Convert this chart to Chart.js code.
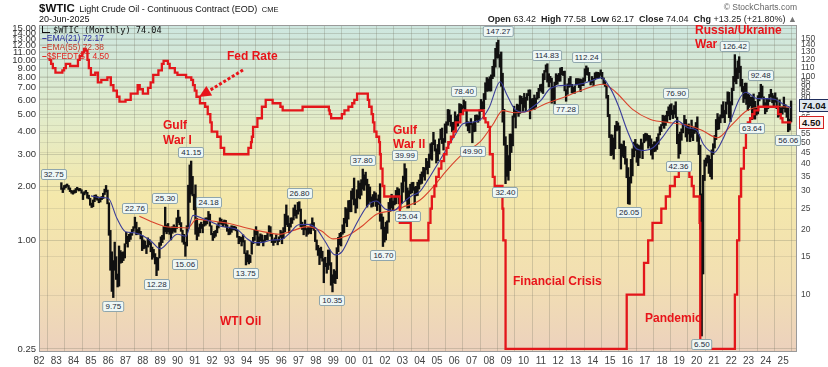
<!DOCTYPE html>
<html>
<head>
<meta charset="utf-8">
<script src="https://cdn.jsdelivr.net/npm/chart.js@4.4.1/dist/chart.umd.min.js"></script>
<style>
html,body{margin:0;padding:0;background:#fff;}
#wrap{position:relative;width:828px;height:367px;overflow:hidden;font-family:Arial,"Liberation Sans",sans-serif;}
#c{position:absolute;left:0;top:0;}
.t{position:absolute;white-space:nowrap;}
.ann{position:absolute;color:#e8141a;font-weight:bold;font-size:12px;line-height:14px;white-space:nowrap;}
.co{position:absolute;font-size:8px;line-height:9px;color:#1d2a3a;background:#eef7f5;border:1px solid #8fa6ad;border-radius:2px;padding:0 2px;white-space:nowrap;transform:translateX(-50%);}
.tag{position:absolute;left:799px;font-size:9.5px;font-weight:bold;line-height:11px;padding:0 2px;white-space:nowrap;}
.leg{position:absolute;left:42px;font-size:8.5px;line-height:9px;white-space:nowrap;}
</style>
</head>
<body>
<div id="wrap">
<canvas id="c" width="828" height="367"></canvas>

<div class="t" style="left:39px;top:0px;line-height:13px;color:#111"><b style="font-size:11.5px">$WTIC</b> <span style="font-size:9px">Light Crude Oil - Continuous Contract (EOD)</span> <span style="font-size:7.5px">CME</span></div>
<div class="t" style="left:39px;top:14px;font-size:9px;line-height:10px;color:#111">20-Jun-2025</div>
<div class="t" style="right:31px;top:2px;font-size:8.5px;line-height:10px;color:#666">&copy; StockCharts.com</div>
<div class="t" style="right:31px;top:14px;font-size:9px;line-height:10px;color:#222"><b>Open</b> 63.42 &nbsp;<b>High</b> 77.58 &nbsp;<b>Low</b> 62.17 &nbsp;<b>Close</b> 74.04 &nbsp;<b>Chg</b> +13.25 (+21.80%) <span style="color:#777">&#9650;</span></div>

<div class="leg" style="top:26px;font-family:'DejaVu Sans Mono',monospace;font-size:8.6px;color:#111"><span style="display:inline-block;width:7px;height:6px;border-left:1px solid #111;border-bottom:1px solid #111;margin-right:3px"></span>$WTIC (Monthly) 74.04</div>
<div class="leg" style="top:34px;color:#2a2f9e"><b>&#8211;</b>EMA(21) 72.17</div>
<div class="leg" style="top:43px;color:#c83a2a"><b>&#8211;</b>EMA(55) 72.38</div>
<div class="leg" style="top:52px;color:#e0201c"><b>&#8211;</b>$$FEDTGT 4.50</div>

<div class="ann" style="left:227px;top:49px">Fed Rate</div>
<div class="ann" style="left:163px;top:118px;line-height:15px">Gulf<br>War I</div>
<div class="ann" style="left:393px;top:123px;line-height:14px">Gulf<br>War II</div>
<div class="ann" style="left:513px;top:274px">Financial Crisis</div>
<div class="ann" style="left:220px;top:314px">WTI Oil</div>
<div class="ann" style="left:645px;top:311px">Pandemic</div>
<div class="ann" style="left:695px;top:23px;line-height:14px">Russia/Ukraine<br>War</div>
<div id="overlay"></div>
</div>

<script>
// monthly WTI bars, Apr 1983 .. Jun 2025 (lows / highs, one row per year)
const firstMonth = 1983 + 3/12;
const wtiLow = [
  30.5,29.5,30.5,31.0,31.5,30.5,29.8,29.3,29.0,
  29.3,29.5,30.4,30.0,30.1,29.3,27.4,28.8,29.3,27.8,27.6,25.8,
  25.2,25.4,26.8,27.5,27.2,26.5,26.7,27.4,27.7,28.9,29.7,26.2,
  18.8,13.0,10.4,9.75,13.0,11.8,10.9,11.0,14.0,14.1,14.4,14.8,
  17.2,16.6,17.6,18.0,18.8,19.6,20.3,18.9,19.0,19.2,18.1,16.0,
  16.3,16.4,15.5,16.6,17.0,15.8,14.6,14.9,13.9,12.28,13.0,14.8,
  16.9,17.4,18.0,19.5,19.1,19.5,19.0,17.9,19.2,19.6,19.4,20.2,
  21.5,21.0,19.6,17.5,17.1,15.06,16.8,20.2,26.6,29.0,28.5,24.6,
  19.0,17.9,18.6,19.3,20.2,19.3,20.7,20.9,21.2,22.1,20.7,18.9,
  17.8,18.3,18.6,19.3,20.3,21.3,21.1,20.6,21.1,20.5,19.6,18.9,
  19.0,19.4,19.9,19.9,19.7,18.4,17.2,17.6,16.8,17.5,15.5,13.75,
  14.2,13.9,14.1,15.4,17.2,17.8,18.9,16.9,16.9,17.7,17.6,16.8,
  17.6,17.9,17.9,19.3,18.6,17.4,16.9,17.4,17.7,17.0,17.6,18.4,
  17.2,18.2,19.5,21.0,20.6,19.3,20.5,21.3,22.1,23.1,22.5,23.5,
  24.2,20.6,20.0,18.9,19.9,18.6,19.0,19.2,19.1,20.2,19.8,17.6,
  16.1,15.2,13.8,14.8,14.3,11.4,13.5,12.6,13.1,13.7,11.1,10.35,
  11.4,11.3,11.9,15.8,17.0,16.8,19.0,19.3,21.4,20.6,22.3,24.1,
  24.1,27.5,25.9,23.8,25.0,27.9,27.6,28.7,30.6,30.2,31.9,25.3,
  26.1,26.9,25.3,25.5,26.9,25.5,24.4,26.0,21.8,20.1,16.7,17.5,
  17.9,19.2,21.6,24.2,25.1,24.4,25.9,26.2,28.2,26.2,24.8,26.3,
  29.6,33.2,27.0,25.04,25.1,29.1,29.4,30.2,26.0,28.5,28.6,30.6,
  32.2,32.5,34.8,33.6,37.5,35.9,38.4,42.0,41.5,48.9,45.7,40.3,
  41.3,44.3,51.6,49.5,46.2,50.1,55.2,60.0,62.3,59.4,56.0,56.9,
  58.2,59.3,59.6,66.2,68.2,68.2,71.8,69.8,59.5,56.6,55.4,60.5,
  49.9,56.0,56.2,63.3,61.9,63.3,69.4,69.3,71.3,78.7,85.8,86.1,
  86.1,86.1,98.1,100.4,110.8,122.0,121.9,110.7,90.5,62.0,48.6,32.4,
  35.0,33.6,37.2,45.0,48.3,65.3,58.3,68.1,65.9,68.0,75.2,69.5,
  72.4,69.5,78.1,82.0,64.2,70.8,71.0,70.8,72.6,79.0,80.1,86.3,
  85.0,83.9,97.0,105.2,94.6,90.0,94.3,75.7,77.1,75.0,92.0,92.5,
  95.4,95.5,102.3,101.4,86.2,77.28,83.2,89.6,90.3,84.4,84.1,84.1,
  91.8,92.0,89.3,85.6,91.1,91.1,95.4,102.2,101.7,95.9,91.8,94.0,
  91.2,96.9,98.4,98.5,99.0,101.6,97.9,92.5,90.4,79.8,65.7,52.7,
  43.6,43.9,42.0,46.8,56.5,57.0,46.9,37.8,43.2,42.6,39.8,34.5,
  26.2,26.05,32.6,35.2,43.0,46.0,40.6,39.2,42.5,46.3,42.2,49.9,
  50.7,51.2,47.1,48.2,43.8,42.0,45.4,45.6,46.5,49.1,54.2,56.1,
  59.8,58.1,59.9,62.0,66.2,63.6,67.0,64.4,67.4,64.9,49.4,42.36,
  44.4,51.2,55.4,60.0,53.0,50.6,54.7,50.5,52.8,51.0,55.0,55.9,
  50.6,44.0,20.0,6.5,12.5,33.5,39.0,40.3,36.1,34.9,34.0,44.1,
  47.2,51.6,57.3,57.6,61.6,64.8,65.0,61.7,67.6,74.9,65.0,62.4,
  74.3,86.5,95.0,92.9,98.2,104.6,90.6,85.7,76.3,79.3,74.7,70.1,
  72.5,73.8,63.64,64.4,64.0,66.8,67.7,77.6,79.5,80.6,72.4,67.7,
  69.3,71.4,77.0,81.0,76.0,72.5,76.5,71.5,65.3,66.0,67.1,67.5,
  71.5,68.9,65.2,56.06,57.0,62.17
];
const wtiHigh = [
  32.75,31.0,31.8,32.0,32.3,31.8,31.0,30.2,30.0,
  30.3,30.8,31.2,30.8,30.8,30.4,29.5,29.8,30.2,29.6,28.7,27.8,
  26.4,27.3,28.7,28.8,28.3,27.6,28.1,28.3,29.3,30.6,31.8,30.3,
  26.5,19.8,15.8,14.4,17.5,15.0,12.5,16.8,16.0,15.7,15.8,17.2,
  19.4,18.6,19.0,19.2,20.0,20.6,22.76,21.6,20.0,20.4,19.6,18.8,
  17.9,17.7,16.9,18.3,18.0,17.4,16.6,16.2,15.5,14.9,14.8,17.4,
  18.5,18.8,20.6,25.3,21.0,21.3,20.5,20.2,20.6,21.0,20.6,22.6,
  24.5,22.8,21.5,19.8,19.0,17.5,20.8,31.9,39.5,41.15,35.0,29.0,
  32.0,22.5,20.4,21.2,21.6,21.1,22.0,22.6,22.6,24.18,23.5,20.8,
  19.2,19.6,19.8,20.8,21.5,22.6,22.3,21.8,22.1,22.0,21.0,20.1,
  20.5,20.8,20.7,20.7,20.5,19.8,18.6,18.5,18.4,18.9,17.8,15.6,
  16.0,15.3,15.2,17.6,18.4,19.9,20.6,19.6,18.5,19.1,18.9,17.9,
  18.8,18.8,19.3,20.8,20.6,19.1,17.9,18.3,18.9,17.8,18.5,19.8,
  19.5,20.4,23.5,25.9,23.1,21.3,22.6,22.6,25.1,25.9,24.5,26.6,
  26.8,24.8,21.6,21.0,22.1,20.2,20.4,20.4,21.2,22.6,21.5,19.8,
  17.9,16.9,16.4,16.6,15.9,14.7,14.9,14.0,16.1,16.1,14.1,12.4,
  13.1,12.9,16.5,18.4,19.2,19.4,21.0,22.5,25.2,24.9,27.1,27.2,
  30.0,30.8,34.4,27.6,30.4,33.4,32.6,33.8,37.8,35.6,36.6,34.0,
  32.2,31.3,28.2,28.9,29.8,29.4,27.6,28.8,32.4,23.6,22.8,20.5,
  21.6,21.9,26.6,27.7,29.0,27.0,28.1,30.2,31.1,30.7,28.0,32.7,
  35.1,39.99,38.0,31.0,30.1,32.2,32.8,32.9,31.3,31.5,32.9,33.7,
  35.8,36.7,38.5,38.3,42.3,41.0,44.3,49.4,50.0,55.7,51.4,46.8,
  49.0,52.0,57.6,58.3,52.2,60.9,62.3,70.9,70.6,66.9,61.9,62.0,
  69.2,66.2,67.2,75.4,74.9,73.9,78.4,77.1,70.4,62.3,61.5,64.4,
  61.1,62.2,66.7,67.0,66.4,70.7,78.8,77.0,83.9,94.0,99.3,97.9,
  100.1,102.1,111.8,119.9,135.1,143.7,147.27,126.5,130.0,103.9,71.0,53.2,
  48.6,43.6,54.7,54.7,66.3,73.4,70.0,75.0,74.4,82.0,81.5,79.8,
  84.0,80.5,83.9,87.1,87.2,79.4,79.6,82.6,80.0,85.0,88.6,92.1,
  92.6,103.4,107.0,113.5,114.83,103.4,100.6,98.6,90.5,94.6,103.4,101.9,
  103.7,109.8,110.6,106.0,106.3,87.3,92.9,98.3,100.4,92.4,89.7,91.0,
  98.2,98.2,97.9,97.8,97.1,98.9,108.9,112.24,110.0,104.8,95.6,100.4,
  98.4,104.4,105.2,104.9,104.5,107.7,104.9,98.9,95.9,91.8,82.3,67.3,
  54.3,54.2,52.5,59.9,62.6,61.6,59.6,49.3,49.0,50.9,48.0,42.2,
  38.4,34.7,41.9,46.8,50.2,51.7,49.3,48.8,48.4,51.9,49.9,54.5,
  55.2,54.9,54.0,53.8,52.0,49.0,50.4,50.4,52.9,54.9,59.1,60.5,
  66.7,66.0,66.6,69.6,72.9,74.5,75.3,70.4,73.9,76.9,65.4,54.6,
  55.8,57.8,60.7,66.6,63.8,59.9,60.9,57.5,63.4,57.5,59.0,61.8,
  65.6,54.4,48.7,29.1,35.4,41.6,42.5,43.8,43.5,41.9,46.3,49.4,
  53.9,63.8,67.9,65.5,67.0,74.5,77.0,70.3,76.7,85.4,85.0,77.0,
  88.8,100.5,126.42,109.8,118.4,123.7,111.9,97.5,90.4,93.6,93.7,83.3,
  82.7,80.6,80.9,83.5,77.3,72.7,82.0,84.9,92.48,90.8,81.0,76.2,
  79.3,79.6,83.1,87.7,84.0,82.0,84.5,80.2,71.5,78.5,72.0,73.0,
  80.8,74.6,72.0,72.0,64.0,77.58
];

// EMA lines
const ema21X = [1985.0,1985.5,1986.0,1986.5,1987.0,1987.5,1988.0,1988.5,1989.0,1989.5,
  1990.0,1990.5,1990.9,1991.5,1992.0,1992.5,1993.0,1993.5,1994.0,1994.5,
  1995.0,1995.5,1996.0,1996.5,1997.0,1997.5,1998.0,1998.5,1999.1,1999.5,
  2000.0,2000.5,2001.0,2001.5,2002.0,2002.5,2003.0,2003.5,2004.0,2004.5,
  2005.0,2005.5,2006.0,2006.5,2007.0,2007.5,2008.0,2008.65,2009.0,2009.5,
  2010.0,2010.5,2011.0,2011.5,2012.0,2012.5,2013.0,2013.5,2014.0,2014.5,
  2015.0,2015.5,2016.0,2016.5,2017.0,2017.5,2018.0,2018.5,2018.85,2019.5,
  2020.0,2020.4,2021.0,2021.5,2022.0,2022.5,2022.85,2023.5,2024.0,2024.5,
  2025.0,2025.45];
const ema21Y = [28.5,28.0,27.8,22.5,19.5,19.3,18.7,17.6,16.3,17.6,
  19.0,18.6,23.2,22.4,21.6,20.7,20.4,19.9,18.2,17.4,
  17.5,17.9,18.0,19.3,21.0,21.1,20.3,17.8,15.3,15.8,
  18.8,22.4,25.8,27.0,24.8,24.4,26.4,28.4,29.8,34.0,
  39.5,46.0,53.5,61.0,62.0,63.5,72.0,95.0,84.0,71.0,
  69.0,72.5,78.0,88.0,91.0,91.5,92.0,93.5,96.5,99.0,
  89.0,73.0,56.5,47.0,46.0,47.5,52.5,59.5,63.0,58.5,
  57.0,49.0,45.0,51.5,64.0,80.0,85.0,79.5,79.5,79.0,
  75.0,72.17];
const ema55X = [1987.8,1988.5,1989.2,1990.0,1990.6,1991.1,1991.7,1992.3,1993.0,1994.0,
  1995.0,1995.9,1996.7,1997.5,1998.3,1999.0,1999.8,2000.7,2001.5,2002.3,
  2003.0,2004.0,2004.8,2005.6,2006.5,2007.5,2008.2,2008.8,2009.5,2010.4,
  2011.3,2012.3,2013.3,2014.6,2015.3,2016.3,2017.3,2018.6,2019.5,2020.3,
  2021.2,2022.0,2022.9,2023.85,2024.7,2025.45];
const ema55Y = [23.0,21.7,20.7,20.4,20.3,22.3,22.0,21.7,21.3,20.3,
  19.5,19.0,19.8,20.6,19.7,18.1,18.7,20.8,23.5,24.3,
  25.3,27.2,31.5,37.6,44.5,50.5,60.0,70.0,68.5,70.0,
  75.5,80.5,86.5,92.5,85.5,71.0,64.0,61.5,60.0,57.0,
  52.6,60.0,70.0,73.0,73.2,72.38];

// fed funds target: date the level starts, level
const fedX = [1982.55,1982.7,1982.8,1982.95,1983.35,1983.45,1983.55,1983.8,1984.25,1984.35,
  1984.5,1984.6,1984.7,1984.8,1984.88,1985.0,1985.25,1985.4,1985.6,1985.95,
  1986.15,1986.3,1986.5,1986.65,1987.0,1987.3,1987.7,1987.82,1988.0,1988.3,
  1988.45,1988.6,1988.9,1989.1,1989.2,1989.45,1989.55,1989.85,1990.0,1990.5,
  1990.8,1990.9,1991.0,1991.1,1991.3,1991.6,1991.75,1991.9,1991.98,1992.3,
  1992.5,1992.7,1994.1,1994.25,1994.3,1994.37,1994.62,1994.88,1995.1,1995.5,
  1995.95,1996.08,1997.23,1998.75,1998.8,1998.88,1999.5,1999.65,1999.88,2000.1,
  2000.22,2000.38,2001.0,2001.08,2001.22,2001.3,2001.38,2001.5,2001.65,2001.7,
  2001.75,2001.85,2001.95,2002.85,2003.48,2004.5,2004.62,2004.7,2004.85,2004.95,
  2005.1,2005.25,2005.4,2005.55,2005.65,2005.8,2005.95,2006.08,2006.35,2006.5,
  2007.7,2007.8,2007.95,2008.05,2008.22,2008.33,2008.78,2008.83,2008.96,2015.96,
  2016.96,2017.2,2017.45,2017.96,2018.22,2018.46,2018.74,2018.97,2019.58,2019.72,
  2019.83,2020.17,2020.21,2022.21,2022.34,2022.46,2022.57,2022.73,2022.85,2022.96,
  2023.09,2023.22,2023.34,2023.57,2024.71,2024.86,2024.96,2025.47];
const fedY = [10.0,9.5,9.0,8.5,8.75,9.0,9.5,9.25,10.0,10.5,
  11.0,11.5,11.25,10.0,9.0,8.25,8.5,7.5,7.75,8.0,
  7.25,6.75,6.25,5.875,6.0,6.5,7.25,6.875,6.5,7.0,
  7.5,8.25,8.75,9.5,9.875,9.5,9.0,8.5,8.25,8.0,
  7.75,7.25,6.75,6.25,5.75,5.5,5.0,4.5,4.0,3.75,
  3.25,3.0,3.25,3.5,3.75,4.25,4.75,5.5,6.0,5.75,
  5.5,5.25,5.5,5.25,5.0,4.75,5.0,5.25,5.5,5.75,
  6.0,6.5,6.0,5.5,5.0,4.5,4.0,3.75,3.5,3.0,
  2.5,2.0,1.75,1.25,1.0,1.25,1.5,1.75,2.0,2.25,
  2.5,2.75,3.0,3.25,3.5,3.75,4.0,4.5,5.0,5.25,
  4.75,4.5,4.25,3.0,2.25,2.0,1.5,1.0,0.25,0.5,
  0.75,1.0,1.25,1.5,1.75,2.0,2.25,2.5,2.25,2.0,
  1.75,1.25,0.25,0.5,1.0,1.75,2.5,3.25,4.0,4.5,
  4.75,5.0,5.25,5.5,5.0,4.75,4.5,4.5];

// labelled turning points: [year, price, 1 = label above / -1 = below]
const callouts = [
  [1982.85,32.75,1],[1986.3,9.75,-1],[1987.55,22.76,1],[1988.8,12.28,-1],[1989.3,25.30,1],
  [1990.8,41.15,1],[1990.45,15.06,-1],[1991.8,24.18,1],[1993.95,13.75,-1],[1997.05,26.80,1],
  [1998.95,10.35,-1],[2000.7,37.80,1],[2001.9,16.70,-1],[2003.15,39.99,1],[2003.3,25.04,-1],
  [2006.55,78.40,1],[2007.05,49.90,-1],[2008.54,147.27,1],[2008.95,32.40,-1],[2011.35,114.83,1],
  [2012.45,77.28,-1],[2013.65,112.24,1],[2016.1,26.05,-1],[2018.8,76.90,1],[2018.95,42.36,-1],
  [2020.3,6.50,-1],[2022.2,126.42,1],[2023.7,92.48,1],[2023.2,63.64,-1],[2025.3,56.06,-1]
];

const years = [];
for(let y=1982;y<=2025;y++) years.push(y);
const rateTicks = [0.25,1,2,3,4,5,6,7,8,9,10,11,12,13,14,15];
const priceTicks = [10,15,20,25,30,35,40,45,50,55,60,65,70,75,80,85,90,95,100,110,120,130,140,150];
const lastClose = 74.04, lastRate = 4.50;

const months = wtiLow.map((_,i)=>firstMonth+i/12+1/24);
const RED='#e8141a';

const bgPlugin={
  id:'bg',
  beforeDraw(ch){
    const {ctx,chartArea:a}=ch;
    const g=ctx.createLinearGradient(0,a.top,0,a.bottom);
    g.addColorStop(0,'#cde6df');
    g.addColorStop(0.28,'#e2ecca');
    g.addColorStop(0.52,'#f4e8ab');
    g.addColorStop(0.78,'#f2dfb2');
    g.addColorStop(1,'#ecd1bd');
    ctx.save();ctx.fillStyle=g;ctx.fillRect(a.left,a.top,a.right-a.left,a.bottom-a.top);ctx.restore();
  },
  afterDraw(ch){
    const {ctx,chartArea:a}=ch;
    ctx.save();
    ctx.strokeStyle='#9a9a9a';ctx.lineWidth=1;
    ctx.strokeRect(a.left+0.5,a.top+0.5,a.right-a.left-1,a.bottom-a.top-1);
    // dotted arrow from the "Fed Rate" note
    const x0=243,y0=70,x1=199,y1=97;
    const dx=x1-x0,dy=y1-y0,len=Math.hypot(dx,dy),ux=dx/len,uy=dy/len;
    const bx=x1-ux*12,by=y1-uy*12;
    ctx.strokeStyle=RED;ctx.fillStyle=RED;ctx.lineWidth=3;ctx.setLineDash([3,2]);
    ctx.beginPath();ctx.moveTo(x0,y0);ctx.lineTo(bx,by);ctx.stroke();
    ctx.setLineDash([]);
    ctx.beginPath();ctx.moveTo(x1,y1);ctx.lineTo(bx-uy*5.5,by+ux*5.5);ctx.lineTo(bx+uy*5.5,by-ux*5.5);ctx.closePath();ctx.fill();
    ctx.restore();
  }
};

let placed=false;
const overlayPlugin={
  id:'overlay',
  afterRender(ch){
    if(placed)return; placed=true;
    const xs=ch.scales.x, yr=ch.scales.yR, yl=ch.scales.yL;
    const box=document.getElementById('overlay');
    let html='';
    callouts.forEach(([yrv,val,dir])=>{
      const px=xs.getPixelForValue(yrv), py=yr.getPixelForValue(val);
      const top = dir>0 ? py-14 : py+3;
      html+=`<div class="co" style="left:${px.toFixed(1)}px;top:${top.toFixed(1)}px">${val.toFixed(2)}</div>`;
    });
    const cy=yr.getPixelForValue(lastClose), ry=yl.getPixelForValue(lastRate);
    html+=`<div class="tag" style="top:${(cy-6.5).toFixed(1)}px;border:1px solid #1f2d5c;background:#dde7f1;color:#111">${lastClose.toFixed(2)}</div>`;
    html+=`<div class="tag" style="top:${(ry-6.5).toFixed(1)}px;border:1px solid #d42020;background:#fff3f0;color:#111">${lastRate.toFixed(2)}</div>`;
    box.innerHTML=html;
  }
};

Chart.defaults.font.family='Arial, "Liberation Sans", sans-serif';
const gridCol='rgba(120,118,100,0.28)';

new Chart(document.getElementById('c'),{
  type:'bar',
  data:{datasets:[
    {type:'line',label:'$$FEDTGT',data:fedX.map((x,i)=>({x,y:fedY[i]})),yAxisID:'yL',stepped:'before',
      borderColor:'#e3161b',borderWidth:2.3,pointRadius:0,order:1},
    {type:'line',label:'EMA(21)',data:ema21X.map((x,i)=>({x,y:ema21Y[i]})),yAxisID:'yR',
      borderColor:'#3a3d9a',borderWidth:1.1,pointRadius:0,cubicInterpolationMode:'monotone',order:2},
    {type:'line',label:'EMA(55)',data:ema55X.map((x,i)=>({x,y:ema55Y[i]})),yAxisID:'yR',
      borderColor:'#d9432c',borderWidth:1.1,pointRadius:0,cubicInterpolationMode:'monotone',order:3},
    {type:'bar',label:'$WTIC',data:months.map((x,i)=>({x,y:[wtiLow[i],wtiHigh[i]]})),yAxisID:'yR',
      backgroundColor:'#111',borderWidth:0,barThickness:1.7,order:4}
  ]},
  options:{
    responsive:false,animation:false,events:[],devicePixelRatio:1,
    layout:{padding:{top:25,left:0,right:0,bottom:0}},
    plugins:{legend:{display:false},tooltip:{enabled:false}},
    scales:{
      x:{type:'linear',min:1982,max:2025.8,offset:false,
        afterBuildTicks:s=>{s.ticks=years.map(v=>({value:v}));},
        afterFit:s=>{s.height=15;},
        grid:{color:gridCol,drawTicks:false},border:{display:false},
        ticks:{autoSkip:false,maxRotation:0,padding:3,color:'#444',font:{size:10},
          callback:v=>String(Math.round(v)%100).padStart(2,'0')}},
      yL:{type:'logarithmic',position:'left',min:0.2405,max:15.61,
        afterBuildTicks:s=>{s.ticks=rateTicks.map(v=>({value:v}));},
        afterFit:s=>{s.width=39;},
        grid:{color:gridCol,drawTicks:false},border:{display:false},
        ticks:{autoSkip:false,padding:3,color:'#333',font:{size:9.5},callback:v=>Number(v).toFixed(2)}},
      yR:{type:'logarithmic',position:'right',min:5.49,max:172.8,
        afterBuildTicks:s=>{s.ticks=priceTicks.map(v=>({value:v}));},
        afterFit:s=>{s.width=31;},
        grid:{color:'rgba(120,118,100,0.16)',drawTicks:false},border:{display:false},
        ticks:{autoSkip:false,padding:4,color:'#444',font:{size:8.5},callback:v=>String(v)}}
    }
  },
  plugins:[bgPlugin,overlayPlugin]
});
</script>
</body>
</html>
